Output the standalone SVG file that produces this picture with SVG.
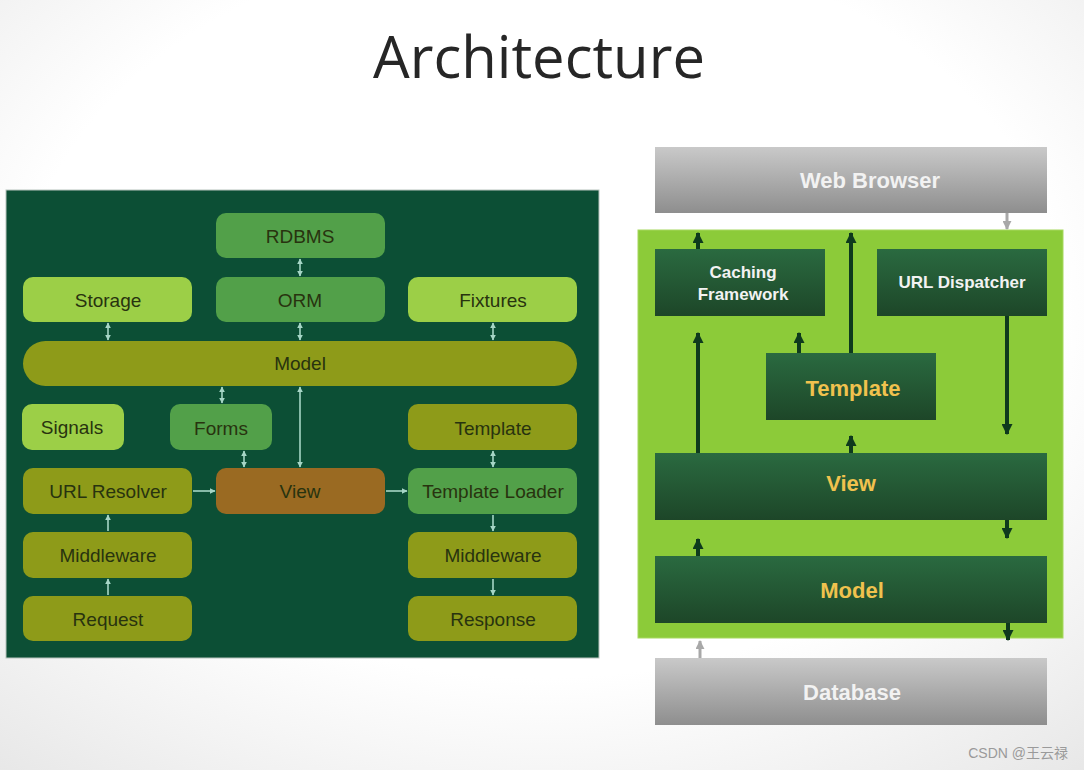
<svg xmlns="http://www.w3.org/2000/svg" width="1084" height="770" viewBox="0 0 1084 770">
<defs>
<radialGradient id="bg" cx="0.5" cy="0.4" r="0.8">
<stop offset="0.6" stop-color="#ffffff"/>
<stop offset="1" stop-color="#e6e6e6"/>
</radialGradient>
<linearGradient id="dk" x1="0" y1="0" x2="0" y2="1">
<stop offset="0" stop-color="#2a6a40"/>
<stop offset="1" stop-color="#1d4628"/>
</linearGradient>
<linearGradient id="gr" x1="0" y1="0" x2="0" y2="1">
<stop offset="0" stop-color="#c9c9c9"/>
<stop offset="1" stop-color="#8e8e8e"/>
</linearGradient>
<marker id="la" viewBox="0 0 10 10" refX="9" refY="5" markerWidth="6" markerHeight="6" markerUnits="userSpaceOnUse" orient="auto-start-reverse">
<path d="M0,0 L10,5 L0,10 z" fill="#a6d6c6"/>
</marker>
<marker id="ra" viewBox="0 0 10 10" refX="9" refY="5" markerWidth="11" markerHeight="11" markerUnits="userSpaceOnUse" orient="auto-start-reverse">
<path d="M0,0 L10,5 L0,10 z" fill="#0e3a1d"/>
</marker>
<marker id="ga" viewBox="0 0 10 10" refX="9" refY="5" markerWidth="9" markerHeight="9" markerUnits="userSpaceOnUse" orient="auto-start-reverse">
<path d="M0,0 L10,5 L0,10 z" fill="#a8a8a8"/>
</marker>
</defs>
<style>
.lt{font-family:"Liberation Sans",Arial,sans-serif;font-size:19px;fill:#28330f;text-anchor:middle;dominant-baseline:central}
.light{fill:#9ccf47}
.med{fill:#52a049}
.olive{fill:#8e9b19}
.brown{fill:#9a6a22}
.lc{stroke:#a6d6c6;stroke-width:1.6;fill:none}
.rt{font-family:"Liberation Sans",Arial,sans-serif;font-weight:bold;text-anchor:middle;dominant-baseline:central}
.w{fill:#f2f2f2}
.y{fill:#f0c24e}
.rc{stroke:#0e3a1d;stroke-width:4;fill:none}
.gc{stroke:#a8a8a8;stroke-width:3;fill:none}
</style>
<rect width="1084" height="770" fill="url(#bg)"/>
<text x="539" y="78" font-family="'Open Sans',sans-serif" font-size="58" fill="#262626" text-anchor="middle">Architecture</text>

<!-- Left panel -->
<rect x="6" y="190" width="593" height="468" fill="#0c4f35" stroke="#b8c4be" stroke-width="1"/>
<g id="l-rdbms"><rect class="med" x="216" y="213" width="169" height="45" rx="10"/><text class="lt" x="300" y="236">RDBMS</text></g>
<g id="l-storage"><rect class="light" x="23" y="277" width="169" height="45" rx="10"/><text class="lt" x="108" y="300">Storage</text></g>
<g id="l-orm"><rect class="med" x="216" y="277" width="169" height="45" rx="10"/><text class="lt" x="300" y="300">ORM</text></g>
<g id="l-fixtures"><rect class="light" x="408" y="277" width="169" height="45" rx="10"/><text class="lt" x="493" y="300">Fixtures</text></g>
<g id="l-model"><rect class="olive" x="23" y="341" width="554" height="45" rx="22.5"/><text class="lt" x="300" y="363">Model</text></g>
<g id="l-signals"><rect class="light" x="22" y="404" width="102" height="46" rx="10"/><text class="lt" x="72" y="427">Signals</text></g>
<g id="l-forms"><rect class="med" x="170" y="404" width="102" height="46" rx="10"/><text class="lt" x="221" y="428">Forms</text></g>
<g id="l-template"><rect class="olive" x="408" y="404" width="169" height="46" rx="10"/><text class="lt" x="493" y="428">Template</text></g>
<g id="l-urlresolver"><rect class="olive" x="23" y="468" width="169" height="46" rx="10"/><text class="lt" x="108" y="491">URL Resolver</text></g>
<g id="l-view"><rect class="brown" x="216" y="468" width="169" height="46" rx="10"/><text class="lt" x="300" y="491">View</text></g>
<g id="l-templateloader"><rect class="med" x="408" y="468" width="169" height="46" rx="10"/><text class="lt" x="493" y="491">Template Loader</text></g>
<g id="l-middleware1"><rect class="olive" x="23" y="532" width="169" height="46" rx="10"/><text class="lt" x="108" y="555">Middleware</text></g>
<g id="l-middleware2"><rect class="olive" x="408" y="532" width="169" height="46" rx="10"/><text class="lt" x="493" y="555">Middleware</text></g>
<g id="l-request"><rect class="olive" x="23" y="596" width="169" height="45" rx="10"/><text class="lt" x="108" y="619">Request</text></g>
<g id="l-response"><rect class="olive" x="408" y="596" width="169" height="45" rx="10"/><text class="lt" x="493" y="619">Response</text></g>

<g id="l-connectors">
<line class="lc" x1="300" y1="259" x2="300" y2="276" marker-start="url(#la)" marker-end="url(#la)"/>
<line class="lc" x1="108" y1="323" x2="108" y2="340" marker-start="url(#la)" marker-end="url(#la)"/>
<line class="lc" x1="300" y1="323" x2="300" y2="340" marker-start="url(#la)" marker-end="url(#la)"/>
<line class="lc" x1="493" y1="323" x2="493" y2="340" marker-start="url(#la)" marker-end="url(#la)"/>
<line class="lc" x1="222" y1="387" x2="222" y2="403" marker-start="url(#la)" marker-end="url(#la)"/>
<line class="lc" x1="300" y1="387" x2="300" y2="467" marker-start="url(#la)" marker-end="url(#la)"/>
<line class="lc" x1="244" y1="451" x2="244" y2="467" marker-start="url(#la)" marker-end="url(#la)"/>
<line class="lc" x1="493" y1="451" x2="493" y2="467" marker-start="url(#la)" marker-end="url(#la)"/>
<line class="lc" x1="193" y1="491" x2="215" y2="491" marker-end="url(#la)"/>
<line class="lc" x1="386" y1="491" x2="407" y2="491" marker-end="url(#la)"/>
<line class="lc" x1="493" y1="515" x2="493" y2="531" marker-end="url(#la)"/>
<line class="lc" x1="493" y1="579" x2="493" y2="595" marker-end="url(#la)"/>
<line class="lc" x1="108" y1="531" x2="108" y2="515" marker-end="url(#la)"/>
<line class="lc" x1="108" y1="595" x2="108" y2="579" marker-end="url(#la)"/>
</g>

<!-- Right panel -->
<rect x="638" y="230" width="425" height="408" fill="#8ccb39" stroke="#a6d85e" stroke-width="1"/>
<g id="r-webbrowser"><rect x="655" y="147" width="392" height="66" fill="url(#gr)"/><text class="rt w" x="870" y="180" font-size="22">Web Browser</text></g>
<g id="r-caching"><rect x="655" y="249" width="170" height="67" fill="url(#dk)"/><text class="rt w" x="743" y="272" font-size="17">Caching</text><text class="rt w" x="743" y="294" font-size="17">Framework</text></g>
<g id="r-urldispatcher"><rect x="877" y="249" width="170" height="67" fill="url(#dk)"/><text class="rt w" x="962" y="282" font-size="17">URL Dispatcher</text></g>
<g id="r-template"><rect x="766" y="353" width="170" height="67" fill="url(#dk)"/><text class="rt y" x="853" y="388" font-size="22">Template</text></g>
<g id="r-view"><rect x="655" y="453" width="392" height="67" fill="url(#dk)"/><text class="rt y" x="851" y="483" font-size="22">View</text></g>
<g id="r-model"><rect x="655" y="556" width="392" height="67" fill="url(#dk)"/><text class="rt y" x="852" y="590" font-size="22">Model</text></g>
<g id="r-database"><rect x="655" y="658" width="392" height="67" fill="url(#gr)"/><text class="rt w" x="852" y="692" font-size="22">Database</text></g>

<g id="r-connectors">
<line class="rc" x1="698" y1="249" x2="698" y2="233" marker-end="url(#ra)"/>
<line class="rc" x1="851" y1="353" x2="851" y2="233" marker-end="url(#ra)"/>
<line class="rc" x1="799" y1="353" x2="799" y2="333" marker-end="url(#ra)"/>
<line class="rc" x1="698" y1="453" x2="698" y2="333" marker-end="url(#ra)"/>
<line class="rc" x1="1007" y1="316" x2="1007" y2="434" marker-end="url(#ra)"/>
<line class="rc" x1="851" y1="453" x2="851" y2="436" marker-end="url(#ra)"/>
<line class="rc" x1="1007" y1="520" x2="1007" y2="538" marker-end="url(#ra)"/>
<line class="rc" x1="698" y1="556" x2="698" y2="539" marker-end="url(#ra)"/>
<line class="rc" x1="1008" y1="623" x2="1008" y2="640" marker-end="url(#ra)"/>
<line class="gc" x1="1007" y1="213" x2="1007" y2="229" marker-end="url(#ga)"/>
<line class="gc" x1="700" y1="658" x2="700" y2="641" marker-end="url(#ga)"/>
</g>

<text x="1068" y="758" font-family="'Liberation Sans','Noto Sans CJK SC',sans-serif" font-size="14" fill="#9a9a9a" text-anchor="end">CSDN @王云禄</text>
</svg>
